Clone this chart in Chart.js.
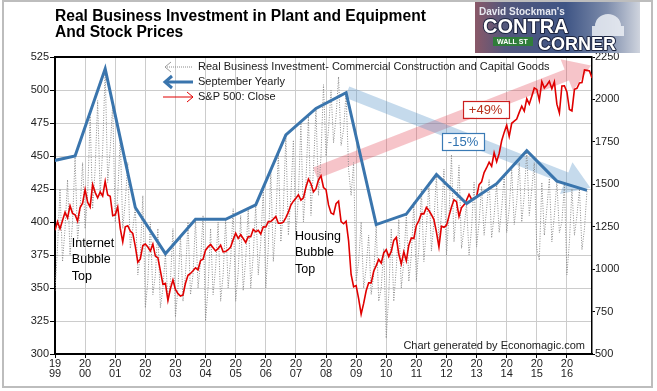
<!DOCTYPE html>
<html>
<head>
<meta charset="utf-8">
<script src="https://cdn.jsdelivr.net/npm/chart.js@4.4.1/dist/chart.umd.min.js"></script>
<style>
  html, body { margin: 0; padding: 0; background: #fff; }
  canvas { display: block; }
</style>
</head>
<body>
<canvas id="chart" width="657" height="391"></canvas>
<script>
"use strict";

// ---------------------------------------------------------------------------
// Data
// ---------------------------------------------------------------------------

const FIRST_YEAR = 1999;
const LAST_X = 2016.833; // end of Oct 2016
const YEAR_TICKS = [1999, 2000, 2001, 2002, 2003, 2004, 2005, 2006, 2007, 2008,
  2009, 2010, 2011, 2012, 2013, 2014, 2015, 2016];
const LEFT_TICKS = [300, 325, 350, 375, 400, 425, 450, 475, 500, 525];
const RIGHT_TICKS = [500, 750, 1000, 1250, 1500, 1750, 2000, 2250];

// Real business investment, monthly from Jan 1999
const investment = [
  348, 380, 425, 370, 395, 432, 375, 400, 450, 385, 410, 445, // 1999
  395, 420, 480, 410, 440, 492, 420, 455, 516, 430, 455, 490, // 2000
  400, 420, 465, 395, 415, 445, 380, 395, 411, 360, 375, 420, // 2001
  335, 355, 400, 345, 360, 395, 335, 350, 376, 340, 355, 395, // 2002
  328, 350, 390, 340, 360, 400, 345, 360, 402, 350, 370, 405, // 2003
  325, 350, 395, 345, 365, 400, 340, 360, 402, 350, 372, 410, // 2004
  340, 362, 405, 348, 372, 410, 350, 375, 413, 360, 385, 425, // 2005
  350, 380, 440, 370, 400, 453, 385, 410, 466, 390, 420, 462, // 2006
  390, 420, 475, 400, 430, 480, 405, 440, 486, 420, 450, 504, // 2007
  450, 470, 500, 460, 480, 510, 458, 470, 498, 440, 420, 445, // 2008
  355, 370, 400, 350, 365, 390, 345, 360, 398, 340, 350, 380, // 2009
  312, 345, 395, 340, 365, 402, 350, 370, 406, 355, 375, 415, // 2010
  355, 380, 425, 370, 395, 430, 378, 400, 436, 385, 405, 440, // 2011
  375, 405, 451, 385, 410, 443, 380, 395, 414, 375, 395, 430, // 2012
  381, 400, 427, 390, 410, 432, 388, 405, 429, 392, 410, 435, // 2013
  392, 410, 440, 398, 415, 445, 400, 420, 454, 405, 425, 445, // 2014
  380, 371, 430, 390, 410, 433, 385, 405, 431, 392, 400, 428, // 2015
  360, 385, 425, 390, 405, 425, 379, 395, 424,                // 2016
];

// September value of each year
const septYears = [1998, 1999, 2000, 2001, 2002, 2003, 2004, 2005, 2006, 2007,
  2008, 2009, 2010, 2011, 2012, 2013, 2014, 2015, 2016];
const septValues = [445, 450, 516, 411, 376, 402, 402, 413, 466, 486,
  498, 398, 406, 436, 414, 429, 454, 431, 424];

// S&P 500 month-end close, Dec 1998 .. Oct 2016
const sp500 = [
  1229.2,
  1279.6, 1238.3, 1286.4, 1335.2, 1301.8, 1372.7, 1328.7, 1320.4, 1282.7, 1362.9, 1388.9, 1469.3,
  1394.5, 1366.4, 1498.6, 1452.4, 1420.6, 1454.6, 1430.8, 1517.7, 1436.5, 1429.4, 1315.2, 1320.3,
  1366.0, 1239.9, 1160.3, 1249.5, 1255.8, 1224.4, 1211.2, 1133.6, 1040.9, 1059.8, 1139.5, 1148.1,
  1130.2, 1106.7, 1147.4, 1076.9, 1067.1, 989.8, 911.6, 916.1, 815.3, 885.8, 936.3, 879.8,
  855.7, 841.2, 848.2, 916.9, 963.6, 974.5, 990.3, 1008.0, 996.0, 1050.7, 1058.2, 1111.9,
  1131.1, 1144.9, 1126.2, 1107.3, 1120.7, 1140.8, 1101.7, 1104.2, 1114.6, 1130.2, 1173.8, 1211.9,
  1181.3, 1203.6, 1180.6, 1156.9, 1191.5, 1191.3, 1234.2, 1220.3, 1228.8, 1207.0, 1249.5, 1248.3,
  1280.1, 1280.7, 1294.8, 1310.6, 1270.1, 1270.2, 1276.7, 1303.8, 1335.9, 1377.9, 1400.6, 1418.3,
  1438.2, 1406.8, 1420.9, 1482.4, 1530.6, 1503.4, 1455.3, 1474.0, 1526.8, 1549.4, 1481.1, 1468.4,
  1378.6, 1330.6, 1322.7, 1385.6, 1400.4, 1280.0, 1267.4, 1282.8, 1166.4, 968.8, 896.2, 903.3,
  825.9, 735.1, 797.9, 872.8, 919.1, 919.3, 987.5, 1020.6, 1057.1, 1036.2, 1095.6, 1115.1,
  1073.9, 1104.5, 1169.4, 1186.7, 1089.4, 1030.7, 1101.6, 1049.3, 1141.2, 1183.3, 1180.6, 1257.6,
  1286.1, 1327.2, 1325.8, 1363.6, 1345.2, 1320.6, 1292.3, 1218.9, 1131.4, 1253.3, 1247.0, 1257.6,
  1312.4, 1365.7, 1408.5, 1397.9, 1310.3, 1362.2, 1379.3, 1406.6, 1440.7, 1412.2, 1416.2, 1426.2,
  1498.1, 1514.7, 1569.2, 1597.6, 1630.7, 1606.3, 1685.7, 1633.0, 1681.6, 1756.5, 1805.8, 1848.4,
  1782.6, 1859.5, 1872.3, 1884.0, 1923.6, 1960.2, 1930.7, 2003.4, 1972.3, 2018.1, 2067.6, 2058.9,
  1995.0, 2104.5, 2067.9, 2085.5, 2107.4, 2063.1, 2103.8, 1972.2, 1920.0, 2079.4, 2080.4, 2043.9,
  1940.2, 1932.2, 2059.7, 2065.3, 2097.0, 2098.9, 2173.6, 2171.0, 2168.3, 2126.2,
];

// ---------------------------------------------------------------------------
// Annotations (data coordinates on x / left y)
// ---------------------------------------------------------------------------

const ARROWS = [
  { from: [2007.64, 437], to: [2016.8, 518.5], color: "rgba(225,60,75,0.3)" },
  { from: [2008.7, 498.5], to: [2016.78, 426], color: "rgba(90,150,200,0.35)" },
];
const NOTES = [
  { at: [1999.56, 384], lines: ["Internet", "Bubble", "Top"] },
  { at: [2006.97, 389], lines: ["Housing", "Bubble", "Top"] },
];
const BOXES = [
  { at: [2013.3, 485.6], text: "+49%", border: "#cc1f1f", color: "#b8321e" },
  { at: [2012.55, 461], text: "-15%", border: "#3a7ab5", color: "#2f72b0" },
];

const FONT = "Arial, 'Liberation Sans', sans-serif";
const BLUE = "#3a75ad";
const RED = "#e00000";
const GRAY = "#8a8a8a";

const toPts = (vals, x0) => vals.map((v, i) => ({ x: x0 + i / 12, y: v }));

// ---------------------------------------------------------------------------
// Drawing helpers
// ---------------------------------------------------------------------------

function bandArrow(ctx, x0, y0, x1, y1, half, headLen, headHalf, color) {
  const len = Math.hypot(x1 - x0, y1 - y0);
  const ux = (x1 - x0) / len, uy = (y1 - y0) / len;
  const nx = -uy, ny = ux;
  const bx = x1 - ux * headLen, by = y1 - uy * headLen;
  ctx.beginPath();
  ctx.moveTo(x0 + nx * half, y0 + ny * half);
  ctx.lineTo(bx + nx * half, by + ny * half);
  ctx.lineTo(bx + nx * headHalf, by + ny * headHalf);
  ctx.lineTo(x1, y1);
  ctx.lineTo(bx - nx * headHalf, by - ny * headHalf);
  ctx.lineTo(bx - nx * half, by - ny * half);
  ctx.lineTo(x0 - nx * half, y0 - ny * half);
  ctx.closePath();
  ctx.fillStyle = color;
  ctx.fill();
}

function drawLegend(ctx, left, top) {
  const rows = [
    ["Real Business Investment- Commercial Construction and Capital Goods", "gray"],
    ["September Yearly", "blue"],
    ["S&P 500: Close", "red"],
  ];
  rows.forEach(([label, kind], i) => {
    const y = top + i * 15;
    const x0 = left, x1 = left + 30;
    ctx.save();
    if (kind === "gray") {
      ctx.strokeStyle = GRAY; ctx.lineWidth = 1; ctx.setLineDash([1, 1]);
      ctx.beginPath(); ctx.moveTo(x0 + 2, y); ctx.lineTo(x1, y); ctx.stroke();
      ctx.setLineDash([]);
      ctx.strokeStyle = "#999";
      ctx.beginPath(); ctx.moveTo(x0 + 8, y - 5); ctx.lineTo(x0 + 2, y); ctx.lineTo(x0 + 8, y + 5); ctx.stroke();
    } else if (kind === "blue") {
      ctx.strokeStyle = BLUE; ctx.lineWidth = 3;
      ctx.beginPath(); ctx.moveTo(x0 + 2, y); ctx.lineTo(x1, y); ctx.stroke();
      ctx.beginPath(); ctx.moveTo(x0 + 9, y - 6); ctx.lineTo(x0 + 2, y); ctx.lineTo(x0 + 9, y + 6); ctx.stroke();
    } else {
      ctx.strokeStyle = RED; ctx.lineWidth = 1;
      ctx.beginPath(); ctx.moveTo(x0, y); ctx.lineTo(x1, y); ctx.stroke();
      ctx.beginPath(); ctx.moveTo(x1 - 6, y - 5); ctx.lineTo(x1, y); ctx.lineTo(x1 - 6, y + 5); ctx.stroke();
    }
    ctx.fillStyle = "#1a1a1a";
    ctx.font = `11px ${FONT}`;
    ctx.textBaseline = "middle";
    ctx.textAlign = "left";
    ctx.fillText(label, x1 + 5, y);
    ctx.restore();
  });
}

function drawLogo(ctx, x, y, w, h) {
  ctx.save();
  const g = ctx.createLinearGradient(x, 0, x + w, 0);
  g.addColorStop(0, "#8a5868");
  g.addColorStop(0.18, "#52577c");
  g.addColorStop(0.55, "#3f5585");
  g.addColorStop(0.8, "#7d8cab");
  g.addColorStop(1, "#cfd4de");
  ctx.fillStyle = g;
  ctx.fillRect(x, y, w, h);
  // dome hint
  ctx.fillStyle = "rgba(235,238,245,0.85)";
  ctx.beginPath();
  ctx.ellipse(x + w - 32, y + 24, 13, 12, 0, Math.PI, 0);
  ctx.fill();
  ctx.fillRect(x + w - 48, y + 24, 32, 10);
  // street sign
  ctx.fillStyle = "#2f7d3a";
  ctx.fillRect(x + 18, y + 35, 40, 9);
  ctx.fillStyle = "#fff";
  ctx.font = `bold 7px ${FONT}`;
  ctx.textBaseline = "middle";
  ctx.fillText("WALL ST", x + 22, y + 40);
  ctx.textBaseline = "alphabetic";
  ctx.font = `bold 10px ${FONT}`;
  ctx.fillStyle = "#e6e8f0";
  ctx.fillText("David Stockman's", x + 4, y + 13);
  ctx.lineJoin = "round";
  ctx.font = `bold 20px ${FONT}`;
  ctx.strokeStyle = "#1c2440"; ctx.lineWidth = 2;
  ctx.strokeText("CONTRA", x + 8, y + 31);
  ctx.fillStyle = "#fff";
  ctx.fillText("CONTRA", x + 8, y + 31);
  ctx.font = `bold 18px ${FONT}`;
  ctx.strokeText("CORNER", x + 63, y + 48);
  ctx.fillText("CORNER", x + 63, y + 48);
  ctx.restore();
}

const decor = {
  id: "decor",
  beforeDatasetsDraw(chart) {
    const { ctx, chartArea, scales } = chart;
    const xs = scales.x, ys = scales.y;
    ctx.save();
    ctx.beginPath();
    ctx.rect(chartArea.left, chartArea.top, chartArea.width + 2, chartArea.height);
    ctx.clip();
    for (const a of ARROWS) {
      bandArrow(ctx,
        xs.getPixelForValue(a.from[0]), ys.getPixelForValue(a.from[1]),
        xs.getPixelForValue(a.to[0]), ys.getPixelForValue(a.to[1]),
        6, 26, 17, a.color);
    }
    ctx.restore();
  },
  afterDraw(chart) {
    const { ctx, chartArea, scales } = chart;
    const xs = scales.x, ys = scales.y;
    ctx.save();

    // top edge of plot box
    ctx.strokeStyle = "#000";
    ctx.lineWidth = 2;
    ctx.beginPath();
    ctx.moveTo(chartArea.left, chartArea.top);
    ctx.lineTo(chartArea.right, chartArea.top);
    ctx.stroke();

    // notes
    ctx.fillStyle = "#000";
    ctx.font = `12.5px ${FONT}`;
    ctx.textBaseline = "middle";
    ctx.textAlign = "left";
    for (const n of NOTES) {
      const x = xs.getPixelForValue(n.at[0]);
      const y = ys.getPixelForValue(n.at[1]);
      n.lines.forEach((t, i) => ctx.fillText(t, x, y + i * 16.5));
    }

    // percentage boxes
    ctx.font = `13px ${FONT}`;
    ctx.textAlign = "center";
    for (const b of BOXES) {
      const cx = xs.getPixelForValue(b.at[0]);
      const cy = ys.getPixelForValue(b.at[1]);
      const w = ctx.measureText(b.text).width + 12, h = 17;
      ctx.fillStyle = "#fff";
      ctx.fillRect(cx - w / 2, cy - h / 2, w, h);
      ctx.strokeStyle = b.border;
      ctx.lineWidth = 1.2;
      ctx.strokeRect(Math.round(cx - w / 2) + 0.5, Math.round(cy - h / 2) + 0.5, Math.round(w), h);
      ctx.fillStyle = b.color;
      ctx.fillText(b.text, cx, cy + 1);
    }

    drawLegend(ctx, chartArea.left + 108, chartArea.top + 10);

    // watermark
    ctx.fillStyle = "#222";
    ctx.font = `11px ${FONT}`;
    ctx.textAlign = "right";
    ctx.textBaseline = "alphabetic";
    ctx.fillText("Chart generated by Economagic.com", chartArea.right - 7, chartArea.bottom - 5);

    // title
    ctx.fillStyle = "#000";
    ctx.font = `bold 15.6px ${FONT}`;
    ctx.textAlign = "left";
    ctx.fillText("Real Business Investment in Plant and Equipment", chartArea.left, 21);
    ctx.fillText("And Stock Prices", chartArea.left, 37);

    drawLogo(ctx, 475, 2, 165, 51);

    // outer frame
    ctx.strokeStyle = "#bdbdbd";
    ctx.lineWidth = 2;
    ctx.strokeRect(3, 1, 649, 386);
    ctx.restore();
  },
};

// ---------------------------------------------------------------------------
// Chart
// ---------------------------------------------------------------------------

const tickFont = { family: FONT, size: 11 };

new Chart(document.getElementById("chart"), {
  type: "line",
  data: {
    datasets: [
      {
        label: "September Yearly",
        data: septYears.map((yr, i) => ({ x: yr + 8 / 12, y: septValues[i] })),
        borderColor: BLUE,
        borderWidth: 3,
        pointRadius: 0,
        yAxisID: "y",
        order: 0,
      },
      {
        label: "S&P 500: Close",
        data: toPts(sp500, FIRST_YEAR),
        borderColor: RED,
        borderWidth: 1.6,
        pointRadius: 0,
        yAxisID: "y1",
        order: 1,
      },
      {
        label: "Real Business Investment- Commercial Construction and Capital Goods",
        data: toPts(investment, FIRST_YEAR),
        borderColor: GRAY,
        borderWidth: 1,
        borderDash: [1, 1.5],
        pointRadius: 0,
        yAxisID: "y",
        order: 2,
      },
    ],
  },
  options: {
    responsive: false,
    animation: false,
    devicePixelRatio: 1,
    layout: { padding: { top: 57, left: 0, right: 0, bottom: 0 } },
    plugins: { legend: { display: false }, tooltip: { enabled: false } },
    scales: {
      x: {
        type: "linear",
        min: FIRST_YEAR,
        max: LAST_X,
        afterBuildTicks: (s) => { s.ticks = YEAR_TICKS.map((v) => ({ value: v })); },
        afterFit: (s) => { s.height = 37; },
        grid: { color: "#cccccc", tickColor: "#000", tickLength: 4 },
        border: { color: "#000", width: 2 },
        ticks: {
          autoSkip: false,
          maxRotation: 0,
          padding: 1,
          color: "#222",
          font: { ...tickFont, lineHeight: 0.92 },
          callback: (v) => [String(v).slice(0, 2), String(v).slice(2)],
        },
      },
      y: {
        position: "left",
        min: 300,
        max: 525,
        afterBuildTicks: (s) => { s.ticks = LEFT_TICKS.map((v) => ({ value: v })); },
        afterFit: (s) => { s.width = 55; },
        grid: { color: "#cccccc", tickColor: "#000", tickLength: 5 },
        border: { color: "#000", width: 2 },
        ticks: { color: "#222", font: tickFont, padding: 1, callback: (v) => String(v) },
      },
      y1: {
        position: "right",
        min: 500,
        max: 2250,
        afterBuildTicks: (s) => { s.ticks = RIGHT_TICKS.map((v) => ({ value: v })); },
        afterFit: (s) => { s.width = 65; },
        grid: { drawOnChartArea: false, tickColor: "#000", tickLength: 3 },
        border: { color: "#000", width: 1.5 },
        ticks: { color: "#222", font: tickFont, padding: 0, callback: (v) => String(v) },
      },
    },
  },
  plugins: [decor],
});
</script>
</body>
</html>
